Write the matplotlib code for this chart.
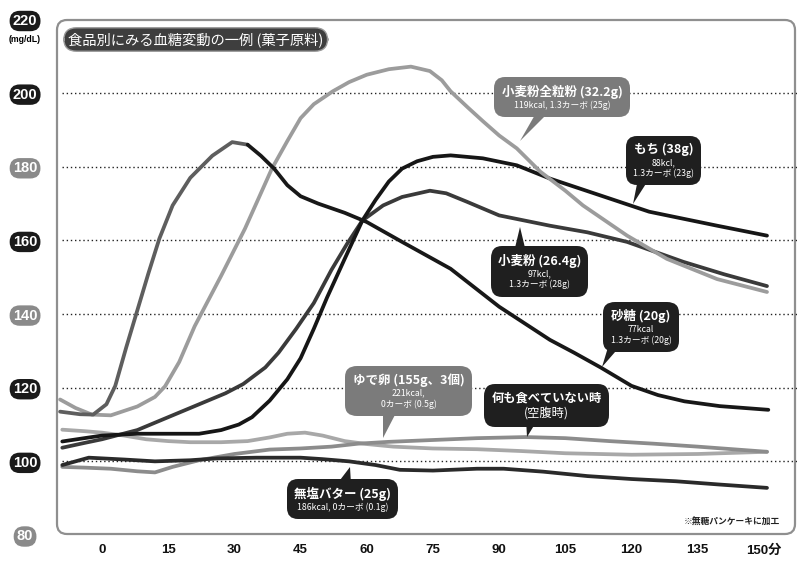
import matplotlib
matplotlib.use('Agg')
import matplotlib.pyplot as plt
from matplotlib.offsetbox import TextArea, VPacker, AnnotationBbox
from matplotlib.patches import FancyBboxPatch, Polygon
from matplotlib.transforms import IdentityTransform

plt.rcParams['font.family'] = ['Noto Sans CJK JP', 'DejaVu Sans']

# ---------------- data ----------------
x_ticks = [0, 15, 30, 45, 60, 75, 90, 105, 120, 135, 150]
x_labels = ['0', '15', '30', '45', '60', '75', '90', '105', '120', '135', '150分']
y_ticks = [80, 100, 120, 140, 160, 180, 200, 220]
y_grid = [100, 120, 140, 160, 180, 200]

sugar_t = [-9.5, -5, -2, 1, 3, 5.5, 8, 10.5, 13, 16, 20, 25, 29.5, 33, 36, 39, 42, 45, 49, 55, 60,
           68, 79, 90, 101.5, 107, 113, 120, 126, 132, 140, 151]
sugar_v = [113.5, 112.8, 112.7, 115.5, 120.5, 131, 141, 151, 160.5, 169.5, 177, 183, 186.7, 186, 183,
           179.5, 175, 172, 170, 167.5, 165, 159.6, 152.3, 142, 133, 129.5, 125.5, 120.5, 118, 116.3,
           115, 114]

wholewheat_t = [-9.5, -6, -2.3, 2, 8, 12, 14.3, 17.5, 21, 27, 32.4, 38.5, 42, 45, 48, 52.3, 56, 60,
                65, 70, 74.3, 77, 79, 83, 86.3, 90, 94, 99.3, 105, 109, 119, 128, 139.4, 150.7]
wholewheat_v = [116.8, 114.5, 112.7, 112.5, 114.9, 117.5, 120.4, 127, 136.7, 150.4, 163.2, 179.5, 187,
                193.2, 197, 200.5, 203, 205, 206.5, 207.2, 206, 203.5, 200.5, 196, 192.4, 188.5, 185,
                178.7, 173.5, 169.5, 161.3, 155, 149.5, 146]

mochi_t = [-9, -4, 0, 8, 15, 22, 27, 31, 34, 38, 42, 45, 48, 51, 55, 59, 62, 65, 68, 71.4, 75, 79,
           86.3, 94, 101.5, 113, 124, 139.4, 150.7]
mochi_v = [105.4, 106.3, 107, 107.5, 107.5, 107.5, 108.5, 110, 112, 116.5, 122.3, 128, 136, 144.5,
           155, 165.4, 171, 176, 179.5, 181.5, 182.7, 183.1, 182.3, 180.4, 176.8, 172.2, 167.8, 164,
           161.3]

wheat_t = [-9, -4, 0, 8, 15, 22, 28, 32, 37, 40, 44, 48, 52, 55.5, 59, 63.7, 68, 74.3, 78, 82.7, 90,
           101.5, 110, 119, 131.7, 141, 150.7]
wheat_v = [103.7, 105, 106, 108.5, 112, 115.5, 118.5, 121, 125.5, 129.5, 136, 143, 152, 159, 165.4,
           169.5, 171.8, 173.5, 172.8, 170.5, 166.8, 164, 162.2, 159.6, 154.2, 150.8, 147.6]

egg_t = [-9, -4, 0, 5, 10, 15, 20, 27, 33, 38, 42, 46, 50, 55, 60, 66, 75, 85, 95, 105, 120, 135, 150.7]
egg_v = [108.6, 108.2, 107.8, 107, 106, 105.5, 105.2, 105.2, 105.5, 106.5, 107.5, 107.8, 107, 105.5,
         104.7, 104, 103.5, 103.3, 102.8, 102.2, 101.8, 102, 102.6]

fasting_t = [-9, -4, 2, 8, 12, 16, 22, 30, 38, 45, 52, 58, 65, 75, 85, 96, 105, 115, 125, 135, 150.7]
fasting_v = [98.5, 98.3, 98, 97.3, 97, 98.5, 100.3, 102, 103.2, 103.5, 104, 104.8, 105.3, 105.8,
             106.3, 106.6, 106.3, 105.5, 104.8, 104, 102.6]

butter_t = [-9, -3, 5, 12, 20, 26, 35, 45, 50, 56, 62, 67.5, 75, 85, 91, 100, 110, 120, 130, 140, 150.7]
butter_v = [99, 101, 100.5, 100, 100.3, 100.8, 101, 101, 100.6, 100, 99, 97.7, 97.5, 98, 98, 97.2,
            96, 95.2, 94.6, 93.7, 92.8]

# ---------------- figure ----------------
W, H = 799, 561
fig = plt.figure(figsize=(W / 100, H / 100), dpi=100)
fig.patch.set_facecolor('white')
ax = fig.add_axes([57 / W, 1 - 535 / H, 740 / W, 515.5 / H])
ax.set_xlim(-10.2, 157.5)
ax.set_ylim(80, 220)
for s in ax.spines.values():
    s.set_visible(False)
ax.patch.set_alpha(0)

# rounded frame
frame = FancyBboxPatch((57, H - 534), 738, 514, boxstyle='round,pad=0,rounding_size=10',
                       transform=IdentityTransform(), fc='none', ec='#8f8f8f', lw=1.6, zorder=0)
fig.add_artist(frame)

# dotted grid
ax.hlines(y_grid, -9.1, 157.5, colors='#222222', linestyles=(0, (1, 2)), lw=1.0, zorder=1)

# curves
lw = 2.7
ax.plot(egg_t, egg_v, color='#a8a8a8', lw=lw, zorder=2, solid_capstyle='round')
ax.plot(fasting_t, fasting_v, color='#8c8c8c', lw=lw, zorder=2, solid_capstyle='round')
ax.plot(butter_t, butter_v, color='#2a2a2a', lw=lw, zorder=2, solid_capstyle='round')
ax.plot(wheat_t, wheat_v, color='#3a3a3a', lw=lw, zorder=3, solid_capstyle='round')
ax.plot(mochi_t, mochi_v, color='#161616', lw=lw, zorder=3, solid_capstyle='round')
ax.plot(wholewheat_t, wholewheat_v, color='#9c9c9c', lw=lw, zorder=3, solid_capstyle='round')
peak = sugar_v.index(max(sugar_v))
ax.plot(sugar_t[:peak + 2], sugar_v[:peak + 2], color='#5e5e5e', lw=lw, zorder=4, solid_capstyle='round')
ax.plot(sugar_t[peak + 1:], sugar_v[peak + 1:], color='#181818', lw=lw, zorder=4, solid_capstyle='round')

# ticks
ax.set_xticks(x_ticks)
ax.set_xticklabels(x_labels, family=['Liberation Sans', 'Noto Sans CJK JP'], fontsize=9.5,
                   fontweight='bold', color='#111111')
ax.set_yticks(y_ticks)
ax.set_yticklabels([str(v) for v in y_ticks], family=['Liberation Sans', 'DejaVu Sans'],
                   fontsize=10.5, fontweight='bold', color='white')
ax.tick_params(axis='x', length=0, pad=6.5)
ax.tick_params(axis='y', length=0, pad=23)
badge_colors = {80: '#8a8a8a', 100: '#1a1a1a', 120: '#1a1a1a', 140: '#8a8a8a',
                160: '#1a1a1a', 180: '#8a8a8a', 200: '#1a1a1a', 220: '#1a1a1a'}
for lab, v in zip(ax.get_yticklabels(), y_ticks):
    lab.set_horizontalalignment('center')
    lab.set_bbox(dict(boxstyle='round,pad=0.22,rounding_size=0.7', fc=badge_colors[v], ec='none'))

fig.text(25 / W, 1 - 40 / H, '(mg/dL)', ha='center', va='center', fontsize=6.3,
         fontweight='bold', family=['Liberation Sans', 'DejaVu Sans'])

# title
ax.text(11 / 740, (535 - 39.5) / 515.5, '食品別にみる血糖変動の一例 (菓子原料)', transform=ax.transAxes,
        ha='left', va='center', fontsize=10.3, color='white', zorder=6,
        bbox=dict(boxstyle='round,pad=0.3,rounding_size=0.9', fc='#3e3e3e', ec='#9a9a9a', lw=1.0))

# footnote
ax.text((780 - 57) / 740, (535 - 522) / 515.5, '※無糖パンケーキに加工', transform=ax.transAxes,
        ha='right', va='center', fontsize=6.3, fontweight='bold', color='#222222')


def P(x, y):
    """reference pixel position -> data coordinates"""
    return tuple(ax.transData.inverted().transform((x, H - y)))


# callouts: box centre, pointer base (x1, x2, y) and tip, all in reference pixels
def callout(lines, sizes, centre, base, tip, fc):
    kids = []
    for i, (txt, fs) in enumerate(zip(lines, sizes)):
        kids.append(TextArea(txt, textprops=dict(color='white', fontsize=fs,
                                                 fontweight='bold' if i == 0 else 'normal')))
    pack = VPacker(children=kids, align='center', pad=2.2, sep=1.2)
    ab = AnnotationBbox(pack, P(*centre), xycoords='data', box_alignment=(0.5, 0.5), zorder=7,
                        bboxprops=dict(boxstyle='round,pad=0.3,rounding_size=0.8', fc=fc, ec='none'))
    ax.add_artist(ab)
    x1, x2, by = base
    inward = 4 if by > centre[1] else -4
    tri = Polygon([P(x1, by - inward), P(x2, by - inward), P(*tip)], closed=True, fc=fc, ec='none',
                  zorder=6.9)
    ax.add_patch(tri)


gray_box = '#7b7b7b'
dark_box = '#1f1f1f'
callout(['小麦粉全粒粉 (32.2g)', '119kcal, 1.3カーボ (25g)'], [9, 6.3],
        (562, 97), (536, 548, 117), (520, 141), gray_box)
callout(['もち (38g)', '88kcl,', '1.3カーボ (23g)'], [9, 6.3, 6.3],
        (663.5, 160.5), (638, 649, 183), (633, 204), dark_box)
callout(['小麦粉 (26.4g)', '97kcl,', '1.3カーボ (28g)'], [9, 6.3, 6.3],
        (539.5, 271.5), (514, 526, 248), (520, 227), dark_box)
callout(['砂糖 (20g)', '77kcal', '1.3カーボ (20g)'], [9, 6.3, 6.3],
        (641, 327), (609, 622, 348), (602, 367), dark_box)
callout(['ゆで卵 (155g、3個)', '221kcal,', '0カーボ (0.5g)'], [9, 6.3, 6.3],
        (408.5, 391), (383, 397, 415), (383, 438), gray_box)
callout(['何も食べていない時', '(空腹時)'], [8.8, 8.8],
        (546.5, 405.5), (526, 538, 423), (527, 437), dark_box)
callout(['無塩バター (25g)', '186kcal, 0カーボ (0.1g)'], [9, 6.3],
        (342.5, 499), (337, 351, 480), (350, 467), dark_box)

fig.savefig('out.png', dpi=100, facecolor='white')
